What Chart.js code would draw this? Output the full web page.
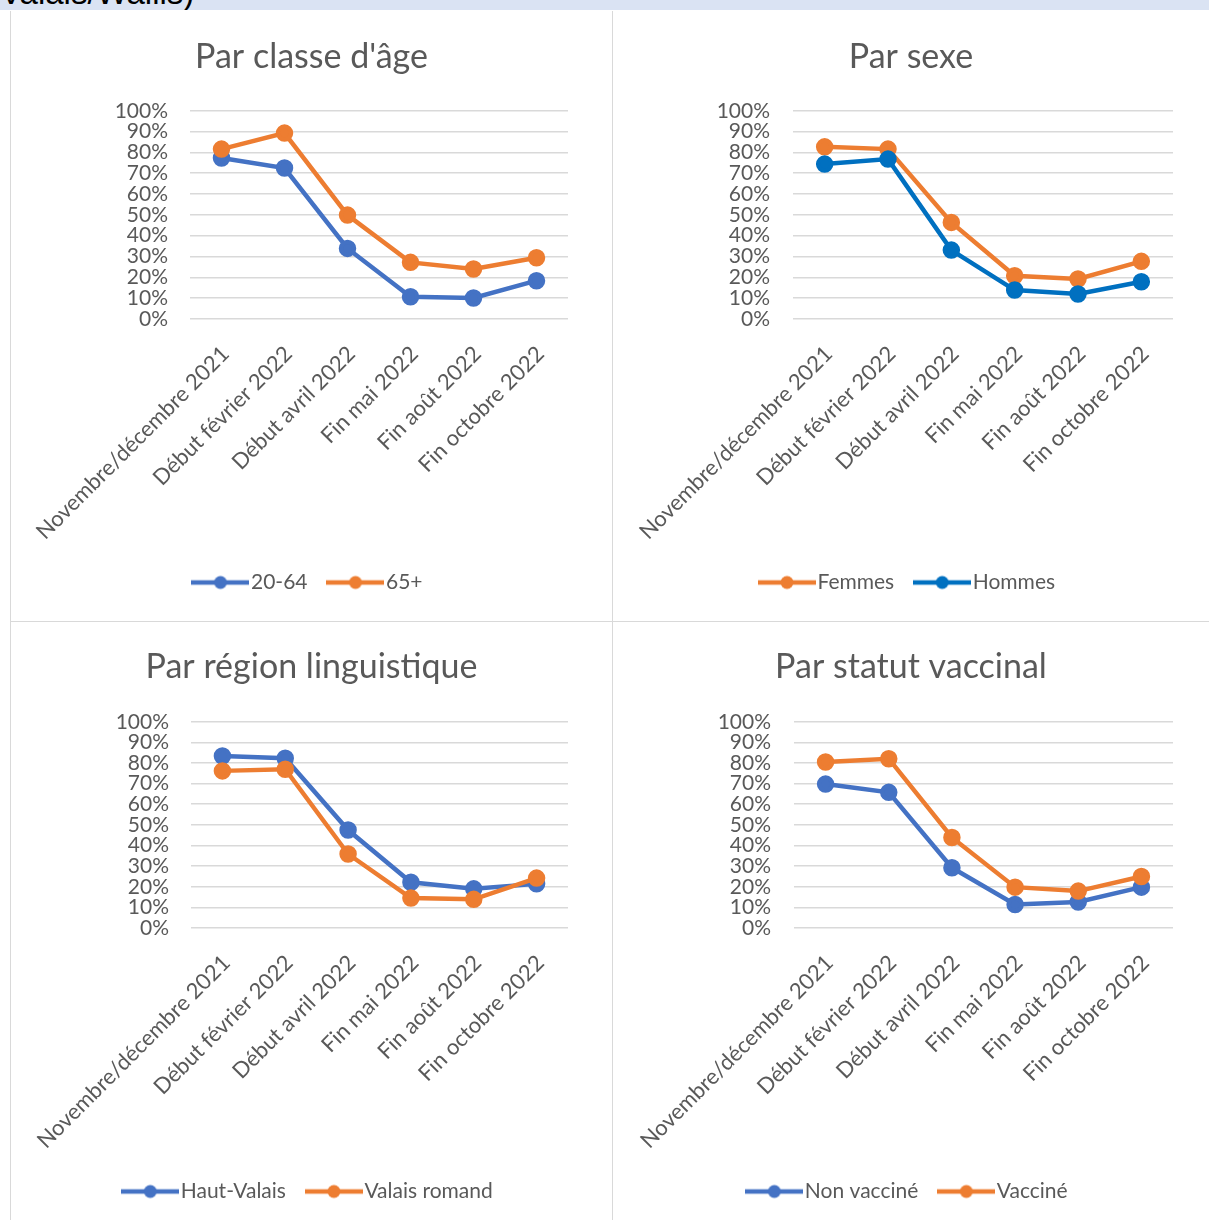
<!DOCTYPE html>
<html lang="fr">
<head>
<meta charset="utf-8">
<title>Évolution par groupe</title>
<script src="https://cdn.jsdelivr.net/npm/chart.js@4.4.1/dist/chart.umd.min.js"></script>
<style>
  html, body { margin: 0; padding: 0; background: #fff; }
  body { width: 1209px; height: 1220px; position: relative; overflow: hidden; }
  #band { position: absolute; left: 0; top: 0; width: 1209px; height: 10px; background: #dae3f3; overflow: hidden; }
  #band span { position: absolute; left: 0; top: -26px; font: 33px "Liberation Sans", Arial, sans-serif; color: #000; white-space: nowrap; }
  .rule { position: absolute; background: #d9d9d9; }
  .panel { position: absolute; }
  .panel canvas { display: block; }
</style>
</head>
<body>
<div id="band"><span>Valais/Wallis)</span></div>
<div class="rule" style="left:10px;top:11px;width:1px;height:1209px"></div>
<div class="rule" style="left:612px;top:11px;width:1px;height:1209px"></div>
<div class="rule" style="left:10px;top:621px;width:1199px;height:1px"></div>

<div class="panel" style="left:11px;top:11px"><canvas id="cAge" width="601" height="610"></canvas></div>
<div class="panel" style="left:613px;top:11px"><canvas id="cSexe" width="596" height="610"></canvas></div>
<div class="panel" style="left:11px;top:622px"><canvas id="cRegion" width="601" height="598"></canvas></div>
<div class="panel" style="left:613px;top:622px"><canvas id="cVacc" width="596" height="598"></canvas></div>

<script>
// Survey waves (x-axis categories)
const categories = [
  "Novembre/décembre 2021",
  "Début février 2022",
  "Début avril 2022",
  "Fin mai 2022",
  "Fin août 2022",
  "Fin octobre 2022"
];

// Shares in percent, per group
const age2064      = [77.3, 72.5, 33.9, 10.7, 10.1, 18.4];
const age65plus    = [81.6, 89.3, 49.9, 27.2, 24.0, 29.4];
const femmes       = [82.7, 81.6, 46.4, 20.8, 19.2, 27.7];
const hommes       = [74.4, 76.8, 33.1, 13.9, 12.0, 17.9];
const hautValais   = [83.4, 82.3, 47.5, 22.2, 19.0, 21.4];
const valaisRomand = [76.2, 77.0, 35.9, 14.5, 13.9, 24.2];
const nonVaccine   = [69.8, 65.8, 29.2, 11.4, 12.6, 19.8];
const vaccine      = [80.5, 82.1, 43.9, 19.8, 17.9, 25.0];

// Y axis: 0% to 100% in steps of 10
const yMin = 0, yMax = 100, yStep = 10;

const BLUE = "#4472C4", ORANGE = "#ED7D31", DARKBLUE = "#0070C0";
const TEXT = "#595959", GRID = "#d9d9d9";
const FONT = "Lato, 'Open Sans', 'Noto Sans', sans-serif";

// Legend symbol: a short line with a round marker in the middle
function legendMarker(color) {
  const c = document.createElement("canvas");
  c.width = 58; c.height = 16;
  const g = c.getContext("2d");
  g.strokeStyle = color; g.lineWidth = 4.5; g.lineCap = "butt";
  g.beginPath(); g.moveTo(0, 8); g.lineTo(58, 8); g.stroke();
  g.fillStyle = color;
  g.beginPath(); g.arc(29, 8, 6.5, 0, Math.PI * 2); g.fill();
  return c;
}

function makeChart(id, title, names, series, colors, box) {
  const datasets = series.map((data, i) => ({
    label: names[i],
    data: data,
    borderColor: colors[i],
    backgroundColor: colors[i],
    pointBackgroundColor: colors[i],
    pointBorderColor: colors[i],
    borderWidth: 4.5,
    pointRadius: 6.5,
    pointHoverRadius: 6.5,
    tension: 0,
    order: series.length - i   // later series are painted on top
  }));

  return new Chart(document.getElementById(id), {
    type: "line",
    data: { labels: categories, datasets },
    options: {
      responsive: false,
      animation: false,
      events: [],
      layout: { padding: { left: 0, right: 0, top: 0, bottom: box.bottom } },
      plugins: {
        title: {
          display: true,
          text: title,
          color: TEXT,
          font: { family: FONT, size: 34, weight: "normal" },
          padding: { top: box.titleTop, bottom: box.titleBottom }
        },
        legend: {
          display: true,
          position: "bottom",
          labels: {
            color: TEXT,
            font: { family: FONT, size: 21 },
            usePointStyle: true,
            pointStyleWidth: 40,
            padding: 28,
            sort: (a, b) => a.datasetIndex - b.datasetIndex,
            generateLabels(chart) {
              const items = Chart.defaults.plugins.legend.labels.generateLabels(chart);
              items.forEach(it => { it.pointStyle = legendMarker(colors[it.datasetIndex]); });
              return items;
            }
          }
        },
        tooltip: { enabled: false }
      },
      scales: {
        x: {
          offset: true,
          grid: { display: false, drawTicks: false },
          border: { display: false },
          ticks: {
            color: TEXT,
            font: { family: FONT, size: 22 },
            autoSkip: false,
            minRotation: 45,
            maxRotation: 45,
            padding: box.xPad,
            labelOffset: box.xLabelOffset
          },
          afterFit(scale) {
            scale.height = box.xHeight;
            // slanted labels already fit inside the panel; no extra side room
            scale.paddingLeft = 0;
            scale.paddingRight = 0;
          }
        },
        y: {
          min: yMin,
          max: yMax,
          grid: { color: GRID, lineWidth: 1.6, drawTicks: false },
          border: { display: false },
          ticks: {
            stepSize: yStep,
            autoSkip: false,
            color: TEXT,
            font: { family: FONT, size: 21 },
            padding: box.yPad,
            callback: v => v + "%"
          },
          afterFit(scale) { scale.width = box.yWidth; }
        },
        // empty right-hand margin so the plot stops short of the panel edge
        margin: {
          type: "linear",
          position: "right",
          display: true,
          grid: { display: false, drawTicks: false },
          border: { display: false },
          ticks: { display: false },
          afterFit(scale) { scale.width = box.right; }
        }
      }
    }
  });
}

makeChart("cAge", "Par classe d'âge", ["20-64", "65+"], [age2064, age65plus], [BLUE, ORANGE],
  { right: 44, bottom: 18, titleTop: 26, titleBottom: 33, yWidth: 179, yPad: 22, xHeight: 225, xPad: 22, xLabelOffset: 4 });
makeChart("cSexe", "Par sexe", ["Femmes", "Hommes"], [femmes, hommes], [ORANGE, DARKBLUE],
  { right: 36, bottom: 18, titleTop: 26, titleBottom: 33, yWidth: 180, yPad: 23, xHeight: 225, xPad: 22, xLabelOffset: 4 });
makeChart("cRegion", "Par région linguistique", ["Haut-Valais", "Valais romand"], [hautValais, valaisRomand], [BLUE, ORANGE],
  { right: 44, bottom: 8, titleTop: 25, titleBottom: 34, yWidth: 180, yPad: 22, xHeight: 225, xPad: 22, xLabelOffset: 4 });
makeChart("cVacc", "Par statut vaccinal", ["Non vacciné", "Vacciné"], [nonVaccine, vaccine], [BLUE, ORANGE],
  { right: 36, bottom: 8, titleTop: 25, titleBottom: 34, yWidth: 181, yPad: 23, xHeight: 225, xPad: 22, xLabelOffset: 4 });
</script>
</body>
</html>
